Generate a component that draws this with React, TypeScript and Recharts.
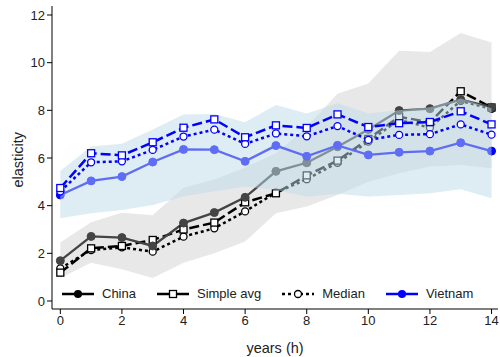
import React from "react";
import { ComposedChart, Line, Area, XAxis, YAxis, Legend } from "recharts";

const years = [0, 1, 2, 3, 4, 5, 6, 7, 8, 9, 10, 11, 12, 13, 14];
const xTicks = [0, 2, 4, 6, 8, 10, 12, 14];
const yTicks = [0, 2, 4, 6, 8, 10, 12];

// China
const chinaLine = [1.69, 2.71, 2.66, 2.31, 3.27, 3.71, 4.35, 5.44, 5.8, 6.47, 7.2, 7.99, 8.07, 8.45, 8.13];
const chinaAvg = [1.19, 2.21, 2.31, 2.56, 3.0, 3.29, 4.14, 4.52, 5.27, 5.89, 6.8, 7.73, 7.5, 8.8, 8.12];
const chinaMed = [1.37, 2.14, 2.25, 2.07, 2.7, 3.05, 3.76, 4.55, 5.11, 5.8, 6.69, 7.6, 7.27, 8.4, 8.06];
const chinaLow = [0.97, 1.6, 1.33, 0.97, 1.6, 2.0, 2.5, 3.68, 3.96, 4.45, 5.0, 5.36, 5.64, 5.71, 5.57];
const chinaHigh = [2.45, 3.3, 3.7, 3.6, 4.75, 5.1, 5.6, 6.2, 7.3, 8.7, 9.13, 10.5, 10.45, 11.25, 10.85];

// Vietnam
const vnLine = [4.45, 5.04, 5.22, 5.83, 6.36, 6.35, 5.86, 6.52, 6.07, 6.53, 6.13, 6.24, 6.29, 6.64, 6.29];
const vnAvg = [4.74, 6.2, 6.11, 6.66, 7.27, 7.62, 6.87, 7.37, 7.26, 7.83, 7.3, 7.46, 7.51, 7.96, 7.41];
const vnMed = [4.6, 5.82, 5.86, 6.34, 6.9, 7.19, 6.59, 7.03, 6.91, 7.34, 6.76, 6.97, 7.0, 7.41, 6.98];
const vnLow = [3.47, 3.68, 3.82, 4.03, 4.4, 4.6, 4.8, 4.66, 4.38, 4.5, 4.38, 4.45, 4.52, 4.69, 4.31];
const vnHigh = [5.45, 6.48, 6.6, 7.2, 7.83, 7.85, 7.5, 8.22, 7.87, 8.3, 7.87, 8.0, 8.13, 8.5, 8.09];

const legendItems = [
  { name: "China", color: "#000", dash: "", marker: "dot" },
  { name: "Simple avg", color: "#000", dash: "", marker: "square" },
  { name: "Median", color: "#000", dash: "3 3", marker: "ring" },
  { name: "Vietnam", color: "#0000ff", dash: "", marker: "dot" },
];

const data = years.map((h, i) => ({
  h,
  china: chinaLine[i],
  chinaAvg: chinaAvg[i],
  chinaMed: chinaMed[i],
  chinaBand: [chinaLow[i], chinaHigh[i]],
  vn: vnLine[i],
  vnAvg: vnAvg[i],
  vnMed: vnMed[i],
  vnBand: [vnLow[i], vnHigh[i]],
}));

const FONT = "'Liberation Sans', Arial, sans-serif";
const X_DOMAIN = [-0.27, 14.21];
const Y_DOMAIN = [-0.336, 12.378];

const squareDot = (color: string) => (props: any) => {
  const { cx, cy, index } = props;
  return (
    <rect key={index} x={cx - 3.5} y={cy - 3.5} width={7} height={7} fill="#fff" stroke={color} strokeWidth={1.3} />
  );
};

function LegendIcon({ item }: { item: any }) {
  return (
    <svg width={32} height={12} style={{ display: "block" }}>
      <line x1={0} y1={6} x2={32} y2={6} stroke={item.color} strokeWidth={2.5} strokeDasharray={item.dash} />
      {item.marker === "dot" && <circle cx={16} cy={6} r={4} fill={item.color} />}
      {item.marker === "square" && <rect x={12.5} y={2.5} width={7} height={7} fill="#fff" stroke={item.color} strokeWidth={1.3} />}
      {item.marker === "ring" && <circle cx={16} cy={6} r={3.5} fill="#fff" stroke={item.color} strokeWidth={1.3} />}
    </svg>
  );
}

function LegendBox() {
  return (
    <div style={{ display: "flex", alignItems: "center", fontFamily: FONT, fontSize: 13, color: "#222" }}>
      {legendItems.map((it) => (
        <div key={it.name} style={{ display: "flex", alignItems: "center", marginRight: 21 }}>
          <LegendIcon item={it} />
          <span style={{ marginLeft: 8 }}>{it.name}</span>
        </div>
      ))}
    </div>
  );
}

export default function App() {
  return (
    <div style={{ position: "absolute", left: 0, top: 0, width: 500, height: 357, background: "#fff" }}>
      {/* bottom layer: axes, China band and lines, Vietnam solid line */}
      <ComposedChart width={500} height={357} data={data} margin={{ top: 6, right: 2, bottom: 0, left: 0 }}>
        <XAxis
          dataKey="h"
          type="number"
          domain={X_DOMAIN}
          allowDataOverflow
          ticks={xTicks}
          height={48}
          tickSize={5}
          stroke="#000"
          tick={{ fill: "#222", fontSize: 13, fontFamily: FONT }}
          label={{ value: "years (h)", position: "insideBottom", offset: 4, fill: "#222", fontSize: 14.5, fontFamily: FONT }}
        />
        <YAxis
          type="number"
          domain={Y_DOMAIN}
          allowDataOverflow
          ticks={yTicks}
          width={52}
          tickSize={5}
          stroke="#000"
          tick={{ fill: "#222", fontSize: 13, fontFamily: FONT }}
          label={{ value: "elasticity", angle: -90, position: "insideLeft", offset: 4, dx: 14, fill: "#222", fontSize: 14.5, fontFamily: FONT, dy: 30 }}
        />
        <Legend
          layout="horizontal"
          verticalAlign="middle"
          align="center"
          content={() => <LegendBox />}
          wrapperStyle={{ left: 62, top: 286, width: "auto" }}
        />
        <Area dataKey="chinaBand" type="linear" stroke="none" fill="#e8e8e8" fillOpacity={1} isAnimationActive={false} />
        <Line dataKey="chinaMed" type="linear" stroke="#000" strokeWidth={2.5} strokeDasharray="3 3"
          dot={{ r: 3.5, fill: "#fff", stroke: "#000", strokeWidth: 1.3, strokeDasharray: "" }} isAnimationActive={false} />
        <Line dataKey="chinaAvg" type="linear" stroke="#000" strokeWidth={2.5} strokeDasharray="10 4"
          dot={squareDot("#000")} isAnimationActive={false} />
        <Line dataKey="china" type="linear" stroke="#444" strokeWidth={2.3}
          dot={{ r: 4, fill: "#444", stroke: "#444", strokeWidth: 1 }} isAnimationActive={false} />
        <Line dataKey="vn" type="linear" stroke="#0000ff" strokeWidth={2.3}
          dot={{ r: 4, fill: "#0000ff", stroke: "#0000ff", strokeWidth: 1 }} isAnimationActive={false} />
      </ComposedChart>
      {/* top layer: translucent Vietnam band, Vietnam avg and median */}
      <div style={{ position: "absolute", left: 0, top: 0 }}>
        <ComposedChart width={500} height={357} data={data} margin={{ top: 6, right: 2, bottom: 48, left: 52 }}>
          <XAxis dataKey="h" type="number" domain={X_DOMAIN} allowDataOverflow hide />
          <YAxis type="number" domain={Y_DOMAIN} allowDataOverflow hide />
          <Area dataKey="vnBand" type="linear" stroke="none" fill="#bdd9e9" fillOpacity={0.5} isAnimationActive={false} />
          <Line dataKey="vnMed" type="linear" stroke="#0000ff" strokeWidth={2.5} strokeDasharray="3 3"
            dot={{ r: 3.5, fill: "#fff", stroke: "#0000ff", strokeWidth: 1.3, strokeDasharray: "" }} isAnimationActive={false} />
          <Line dataKey="vnAvg" type="linear" stroke="#0000ff" strokeWidth={2.5} strokeDasharray="10 4"
            dot={squareDot("#0000ff")} isAnimationActive={false} />
        </ComposedChart>
      </div>
    </div>
  );
}
